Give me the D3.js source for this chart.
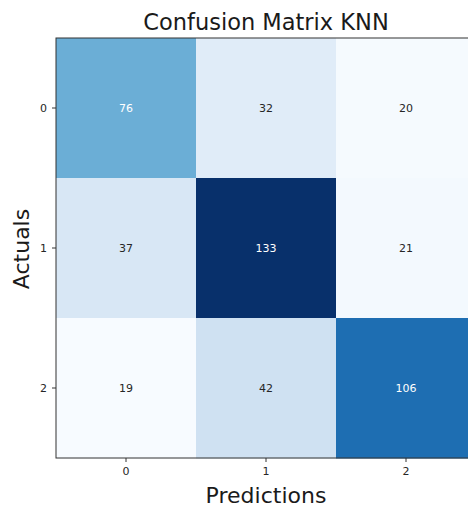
<!DOCTYPE html>
<html><head><meta charset="utf-8">
<script src="https://cdn.jsdelivr.net/npm/d3@7"></script>
<style>body{margin:0;background:#fff}svg{display:block}text{font-family:"DejaVu Sans",sans-serif}</style>
</head><body>
<svg id="c" width="468" height="507"></svg>
<script>
const predLabels = ["0","1","2"];
const actualLabels = ["0","1","2"];
const matrix = [
  [76, 32, 20],
  [37, 133, 21],
  [19, 42, 106]
];
const title = "Confusion Matrix KNN";
const xTitle = "Predictions";
const yTitle = "Actuals";
const blues = ["#f7fbff","#deebf7","#c6dbef","#9ecae1","#6baed6","#4292c6","#2171b5","#08519c","#08306b"];

const svg = d3.select("#c");
const m = {left:56, top:38, right:476, bottom:458};
const x = d3.scaleBand().domain(predLabels).range([m.left, m.right]);
const y = d3.scaleBand().domain(actualLabels).range([m.top, m.bottom]);
const flat = matrix.flat();
const vmin = d3.min(flat), vmax = d3.max(flat);
const norm = d3.scaleLinear().domain([vmin, vmax]).range([0,1]);
const cmap = d3.scaleLinear().domain(blues.map((_,i)=>i/(blues.length-1))).range(blues).interpolate(d3.interpolateRgb);
const thresh = (vmin+vmax)/2;

const cells = [];
matrix.forEach((row,i)=>row.forEach((v,j)=>cells.push({r:actualLabels[i], c:predLabels[j], v})));

svg.selectAll("rect.cell").data(cells).join("rect").attr("class","cell")
  .attr("x",d=>x(d.c)).attr("y",d=>y(d.r))
  .attr("width",x.bandwidth()+0.5).attr("height",y.bandwidth()+0.5)
  .attr("fill",d=>cmap(norm(d.v)));

svg.selectAll("text.val").data(cells).join("text").attr("class","val")
  .attr("x",d=>x(d.c)+x.bandwidth()/2).attr("y",d=>y(d.r)+y.bandwidth()/2)
  .attr("text-anchor","middle").attr("dominant-baseline","central")
  .attr("font-size",11)
  .attr("fill",d=>d.v < thresh ? "#262626" : "#ffffff")
  .text(d=>d.v);

svg.append("rect").attr("x",m.left).attr("y",m.top).attr("width",m.right-m.left).attr("height",m.bottom-m.top)
  .attr("fill","none").attr("stroke","#333").attr("stroke-width",1);

const xa = svg.append("g").attr("transform",`translate(0,${m.bottom})`)
  .call(d3.axisBottom(x).tickSize(4).tickPadding(5));
const ya = svg.append("g").attr("transform",`translate(${m.left},0)`)
  .call(d3.axisLeft(y).tickSize(4).tickPadding(5));
[xa,ya].forEach(g=>{
  g.select(".domain").remove();
  g.selectAll("text").attr("font-size",11).attr("fill","#262626").attr("font-family","DejaVu Sans");
  g.selectAll("line").attr("stroke","#333");
});

svg.append("text").attr("x",266).attr("y",30).attr("text-anchor","middle")
  .attr("font-size",22.5).attr("fill","#1a1a1a").text(title);
svg.append("text").attr("x",266).attr("y",503).attr("text-anchor","middle")
  .attr("font-size",22).attr("fill","#1a1a1a").text(xTitle);
svg.append("text").attr("transform",`translate(29,249) rotate(-90)`).attr("text-anchor","middle")
  .attr("font-size",22).attr("fill","#1a1a1a").text(yTitle);
</script>
</body></html>
